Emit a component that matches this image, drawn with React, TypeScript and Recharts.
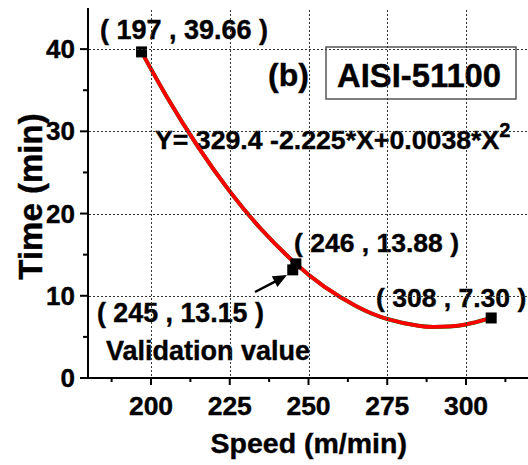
import React from "react";
import {
  ComposedChart,
  Line,
  Scatter,
  XAxis,
  YAxis,
  Customized,
} from "recharts";

// fitted curve
const fitSpeed = [197, 205, 215, 225, 235, 246, 255, 265, 275, 285, 290, 295, 300, 308];
const fitTime = [39.66, 34.21, 28.08, 22.7, 18.09, 13.88, 11.12, 8.77, 7.18, 6.35, 6.21, 6.27, 6.51, 7.3];

// experimental points
const expSpeed = [197, 246, 308];
const expTime = [39.66, 13.88, 7.3];

// validation point
const valSpeed = [245];
const valTime = [13.15];

const xMajor = [200, 225, 250, 275, 300];
const xMinor = [187.5, 212.5, 237.5, 262.5, 287.5, 312.5];
const yMajor = [0, 10, 20, 30, 40];
const yMinor = [5, 15, 25, 35];
const topTicks = [180, 190, 200, 210, 220, 230, 240, 250, 260, 270, 280, 290, 300, 310, 320];
const rightTicks = [0, 2.5, 5, 7.5, 10, 12.5, 15, 17.5, 20, 22.5, 25, 27.5, 30, 32.5, 35, 37.5, 40, 42.5, 45];

const FONT = "'Liberation Sans', Arial, sans-serif";

const fitData = fitSpeed.map((s, i) => ({ speed: s, time: fitTime[i] }));
const expData = expSpeed.map((s, i) => ({ speed: s, time: expTime[i] }));
const valData = valSpeed.map((s, i) => ({ speed: s, time: valTime[i] }));

const fmt = (s: number, t: number) => `( ${s} , ${t.toFixed(2)} )`;

// heavy bold text like the Origin export
const txt = { fontFamily: FONT, fontWeight: "bold", fill: "#000", stroke: "#000", strokeWidth: 0.4 } as const;

// the plot box, in pixels of the page
const PLOT = { left: 88, top: 8, right: 529, bottom: 378 };
const snap = (v: number) => Math.round(v) + 0.5;
const GRID = { stroke: "#333", strokeWidth: 1, strokeDasharray: "1.5 2.5", shapeRendering: "crispEdges" } as const;

function BottomTick(props: any) {
  const { x, y, payload } = props;
  const major = xMajor.includes(payload.value);
  return (
    <g>
      {major && <line x1={snap(x)} x2={snap(x)} y1={PLOT.top + 2} y2={y - 1} {...GRID} />}
      <line x1={x} x2={x} y1={y} y2={y + (major ? 7 : 4)} stroke="#000" strokeWidth={2} />
      {major && (
        <text x={x} y={y + 37} textAnchor="middle" fontSize={26.5} {...txt}>
          {payload.value}
        </text>
      )}
    </g>
  );
}

function LeftTick(props: any) {
  const { x, y, payload } = props;
  const major = yMajor.includes(payload.value);
  return (
    <g>
      {major && payload.value > 0 && (
        <line x1={x + 1} x2={PLOT.right} y1={snap(y)} y2={snap(y)} {...GRID} />
      )}
      <line x1={x} x2={x - (major ? 8 : 5)} y1={y} y2={y} stroke="#000" strokeWidth={2} />
      {major && (
        <text x={x - 13} y={y + 9} textAnchor="end" fontSize={26} {...txt}>
          {payload.value}
        </text>
      )}
    </g>
  );
}

function TopTick(props: any) {
  const { x, y } = props;
  return <line x1={x} x2={x} y1={y} y2={y + 5} stroke="#000" strokeWidth={1.5} />;
}

function RightTick(props: any) {
  const { x, y } = props;
  return <line x1={x} x2={x - 5} y1={y} y2={y} stroke="#000" strokeWidth={1.5} />;
}

const square = (props: any) => {
  const { cx, cy } = props;
  return <rect x={cx - 5.5} y={cy - 5.5} width={11} height={11} fill="#000" />;
};

function Annotations() {
  return (
    <g>
      <text x={100} y={39} fontSize={27} {...txt}>{fmt(expSpeed[0], expTime[0])}</text>
      <text x={294} y={252} fontSize={26.5} {...txt}>{fmt(expSpeed[1], expTime[1])}</text>
      <text x={376} y={307} fontSize={26.5} {...txt}>{fmt(expSpeed[2], expTime[2])}</text>
      <text x={97} y={322} fontSize={26.8} {...txt}>{fmt(valSpeed[0], valTime[0])}</text>
      <text x={106} y={360} fontSize={27} {...txt}>Validation value</text>
      <text x={268} y={86} fontSize={32} {...txt}>(b)</text>
      <rect x={326} y={47} width={190} height={52} fill="#fff" stroke="#555" strokeWidth={1.5} />
      <text x={337} y={87} fontSize={32.8} {...txt}>AISI-51100</text>
      <text x={155} y={149} fontSize={26.7} {...txt}>
        Y= 329.4 -2.225*X+0.0038*X
        <tspan fontSize={20} dy={-12}>2</tspan>
      </text>
      <line x1={255} y1={292} x2={275} y2={281.6} stroke="#000" strokeWidth={2.5} />
      <polygon points="287,275 277.4,286.9 271.8,276.3" fill="#000" />
      <text x={308.7} y={453} textAnchor="middle" fontSize={28.5} {...txt}>Speed (m/min)</text>
      <text x={42} y={196.5} textAnchor="middle" fontSize={33} transform="rotate(-90 42 196.5)" {...txt}>
        Time (min)
      </text>
    </g>
  );
}

export default function App() {
  return (
    <div style={{ position: "absolute", left: 0, top: 0, width: 528, height: 465, overflow: "hidden", background: "#fff" }}>
      <ComposedChart width={540} height={465} margin={{ top: 8, right: 11, bottom: 0, left: 0 }}>
        <XAxis
          xAxisId={0}
          dataKey="speed"
          type="number"
          domain={[180, 320]}
          allowDataOverflow
          ticks={[...xMajor, ...xMinor]}
          interval={0}
          tickSize={0}
          tickMargin={0}
          height={87}
          axisLine={{ stroke: "#000", strokeWidth: 2 }}
          tickLine={false}
          tick={(p: any) => <BottomTick {...p} />}
        />
        <XAxis
          xAxisId="top"
          orientation="top"
          type="number"
          domain={[180, 320]}
          allowDataOverflow
          ticks={topTicks}
          interval={0}
          tickSize={0}
          tickMargin={0}
          height={0}
          axisLine={{ stroke: "#000", strokeWidth: 2 }}
          tickLine={false}
          tick={(p: any) => <TopTick {...p} />}
        />
        <YAxis
          yAxisId={0}
          type="number"
          domain={[0, 45]}
          allowDataOverflow
          ticks={[...yMajor, ...yMinor]}
          interval={0}
          tickSize={0}
          tickMargin={0}
          width={88}
          axisLine={{ stroke: "#000", strokeWidth: 2 }}
          tickLine={false}
          tick={(p: any) => <LeftTick {...p} />}
        />
        <YAxis
          yAxisId="right"
          orientation="right"
          type="number"
          domain={[0, 45]}
          allowDataOverflow
          ticks={rightTicks}
          interval={0}
          tickSize={0}
          tickMargin={0}
          width={0}
          axisLine={{ stroke: "#000", strokeWidth: 2 }}
          tickLine={false}
          tick={(p: any) => <RightTick {...p} />}
        />
        <Line
          data={fitData}
          dataKey="time"
          type="natural"
          stroke="#008000"
          strokeWidth={4}
          dot={false}
          activeDot={false}
          isAnimationActive={false}
        />
        <Scatter data={expData} dataKey="time" shape={square} isAnimationActive={false} />
        <Scatter data={valData} dataKey="time" shape={square} isAnimationActive={false} />
        <Line
          data={fitData}
          dataKey="time"
          type="natural"
          stroke="#ff0000"
          strokeWidth={3.8}
          dot={false}
          activeDot={false}
          isAnimationActive={false}
        />
        <Customized component={Annotations} />
      </ComposedChart>
    </div>
  );
}
